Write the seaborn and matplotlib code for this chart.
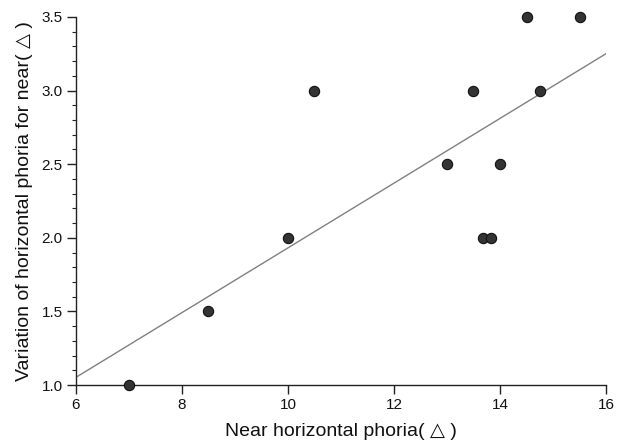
import numpy as np
import pandas as pd
import matplotlib
matplotlib.use("Agg")
import matplotlib.pyplot as plt
from matplotlib.ticker import MultipleLocator
import seaborn as sns

# values
near_phoria = [7.0, 8.5, 10.0, 10.5, 13.0, 13.5, 13.67, 13.83, 14.0, 14.5, 14.75, 15.5]
phoria_variation = [1.0, 1.5, 2.0, 3.0, 2.5, 3.0, 2.0, 2.0, 2.5, 3.5, 3.0, 3.5]

x_ticks = [6, 8, 10, 12, 14, 16]
y_ticks = [1.0, 1.5, 2.0, 2.5, 3.0, 3.5]

df = pd.DataFrame({"near": near_phoria, "variation": phoria_variation})

sns.set_style("ticks")
plt.rcParams['font.family'] = ['Liberation Sans', 'DejaVu Sans']

fig = plt.figure(figsize=(6.25, 4.47), dpi=100)
ax = fig.add_axes([0.1216, 0.1387, 0.848, 0.8233])
ax.set_xlim(6, 16)
ax.set_ylim(1.0, 3.5)

sns.regplot(data=df, x="near", y="variation", ax=ax, ci=None, truncate=False,
            scatter_kws=dict(s=55, color="#333333", edgecolor="#111111", linewidths=0.8,
                             alpha=1, zorder=3, clip_on=False),
            line_kws=dict(color="#808080", lw=1.0, zorder=2))

ax.set_xlim(6, 16)
ax.set_ylim(1.0, 3.5)
ax.set_xticks(x_ticks)
ax.set_yticks(y_ticks)
ax.set_yticklabels([f"{v:.1f}" for v in y_ticks])
ax.yaxis.set_minor_locator(MultipleLocator(0.1))

for side in ["top", "right"]:
    ax.spines[side].set_visible(False)
for side in ["left", "bottom"]:
    ax.spines[side].set_color("#222222")
    ax.spines[side].set_linewidth(1.0)

ax.tick_params(axis="both", which="major", direction="out", length=6.5, width=1.0,
               color="#222222", labelsize=11, labelcolor="#111111", pad=3)
ax.tick_params(axis="y", which="minor", direction="out", length=3, width=0.8, color="#222222")

ax.set_xlabel("Near horizontal phoria( △ )", fontsize=14, color="#111111", labelpad=8)
ax.set_ylabel("Variation of horizontal phoria for near( △ )", fontsize=14, color="#111111", labelpad=6)

fig.savefig("out.png", dpi=100)
